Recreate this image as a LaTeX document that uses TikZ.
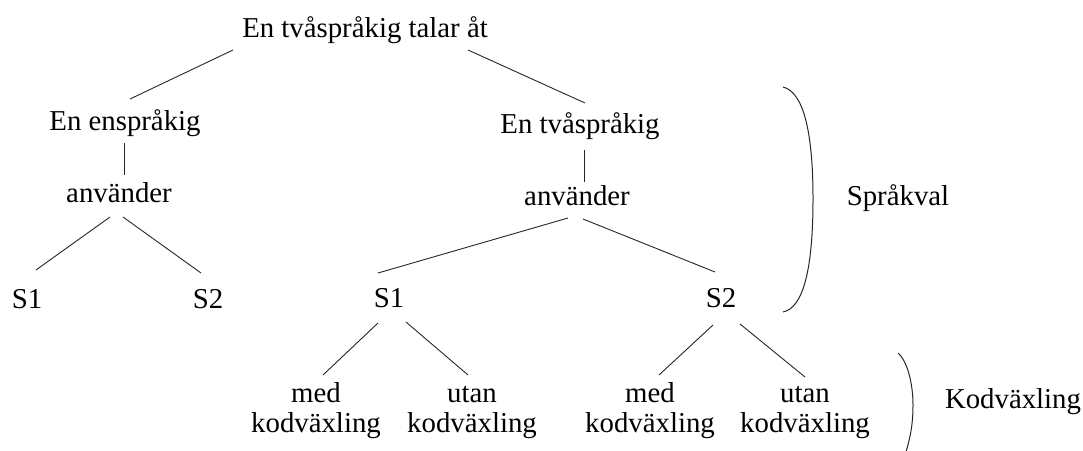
\documentclass[tikz,border=0pt]{standalone}
\usepackage{fontspec}
\setmainfont{Liberation Serif}
\begin{document}
\begin{tikzpicture}[x=1pt,y=1pt,
  lbl/.style={inner sep=0pt,anchor=base,font=\fontsize{28.8}{30}\selectfont,text=black},
  two/.style={lbl,align=center},
  edge/.style={line width=0.9pt,draw=black!85},
  brace/.style={line width=1pt,draw=black!85}]
\useasboundingbox (0,0) rectangle (1083,-450);
% nodes
\node[lbl] (root) at (365,-37) {En tvåspråkig talar åt};
\node[lbl] (ens)  at (125,-130) {En enspråkig};
\node[lbl] (anvL) at (119,-202) {använder};
\node[lbl] (s1L)  at (27,-308) {S1};
\node[lbl] (s2L)  at (208,-308) {S2};
\node[lbl] (tva)  at (580,-133) {En tvåspråkig};
\node[lbl] (anvR) at (577,-205) {använder};
\node[lbl] (s1R)  at (389,-307) {S1};
\node[lbl] (s2R)  at (721,-307) {S2};
\node[two] (m1) at (316,-432) {med\\kodväxling};
\node[two] (u1) at (472,-432) {utan\\kodväxling};
\node[two] (m2) at (650,-432) {med\\kodväxling};
\node[two] (u2) at (805,-432) {utan\\kodväxling};
\node[lbl] (sprak) at (898,-205) {Språkval};
\node[lbl] (kod)   at (1013,-408) {Kodväxling};
% connectors
\draw[edge] ([shift={(-132,-13)}]root.base) -- ([shift={(5,31)}]ens.base);
\draw[edge] ([shift={(103,-13)}]root.base) -- ([shift={(5,30)}]tva.base);
\draw[edge] ([shift={(-1,-13)}]ens.base) -- ([shift={(5,27)}]anvL.base);
\draw[edge] ([shift={(-9,-15)}]anvL.base) -- ([shift={(9,38)}]s1L.base);
\draw[edge] ([shift={(4,-15)}]anvL.base) -- ([shift={(-7,35)}]s2L.base);
\draw[edge] ([shift={(4,-17)}]tva.base) -- ([shift={(7,23)}]anvR.base);
\draw[edge] ([shift={(-9,-13)}]anvR.base) -- ([shift={(-11,34)}]s1R.base);
\draw[edge] ([shift={(6,-14)}]anvR.base) -- ([shift={(-6,35)}]s2R.base);
\draw[edge] ([shift={(-11,-16)}]s1R.base) -- ([shift={(7,57)}]m1.base);
\draw[edge] ([shift={(17,-15)}]s1R.base) -- ([shift={(-4,57)}]u1.base);
\draw[edge] ([shift={(-8,-18)}]s2R.base) -- ([shift={(9,57)}]m2.base);
\draw[edge] ([shift={(19,-17)}]s2R.base) -- ([shift={(0,55)}]u2.base);
% brackets
\draw[brace] (783,-87) .. controls (803,-92) and (813,-130) .. (813,-199)
  .. controls (813,-270) and (803,-308) .. (783,-312);
\begin{scope}
\clip (0,0) rectangle (1083,-450);
\draw[brace] (898,-353) .. controls (908,-362) and (913,-385) .. (913,-405)
  .. controls (913,-425) and (910,-440) .. (904,-458);
\end{scope}
\end{tikzpicture}
\end{document}
